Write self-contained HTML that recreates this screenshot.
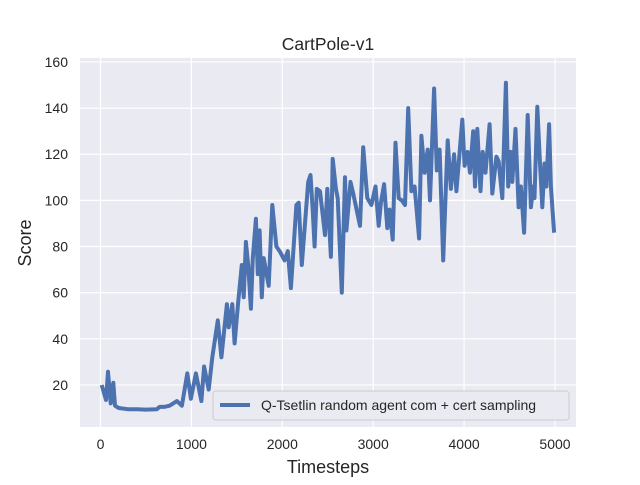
<!DOCTYPE html>
<html><head><meta charset="utf-8"><style>
body{margin:0;background:#fff;font-family:"Liberation Sans",Arial,sans-serif}
svg text{font-family:"Liberation Sans",Arial,sans-serif;fill:#262626}
</style></head><body>
<svg id="chart" width="640" height="480" xmlns="http://www.w3.org/2000/svg">
<rect x="0" y="0" width="640" height="480" fill="#fff"/>
<rect x="80" y="58" width="496" height="369" fill="#eaeaf2"/>
<g id="grid"></g>
<g id="ticks"></g>
<g id="series"></g>
<text x="328" y="50" font-size="17.5" text-anchor="middle">CartPole-v1</text>
<text x="328" y="473" font-size="18" text-anchor="middle">Timesteps</text>
<text x="31" y="243" font-size="18" text-anchor="middle" transform="rotate(-90 31 243)">Score</text>
<g>
<rect x="213" y="391" width="356" height="29" rx="3" fill="#eaeaf2" stroke="#cccccc" stroke-width="1"/>
<line x1="220" y1="405" x2="250" y2="405" stroke="#4c72b0" stroke-width="4"/>
<text x="261" y="410" font-size="14">Q-Tsetlin random agent com + cert sampling</text>
</g>
</svg>
<script>
const timesteps=[13,60,82,112,141,160,200,300,400,500,620,650,700,760,840,895,955,995,1050,1110,1140,1190,1230,1290,1330,1390,1410,1450,1475,1515,1555,1575,1600,1625,1655,1675,1710,1730,1750,1775,1795,1850,1890,1935,1970,2025,2060,2095,2155,2180,2215,2285,2310,2335,2355,2380,2415,2470,2495,2535,2555,2590,2610,2655,2690,2705,2750,2780,2855,2890,2935,2980,3025,3060,3085,3120,3155,3180,3215,3245,3280,3315,3350,3385,3420,3455,3505,3530,3565,3600,3625,3670,3700,3730,3770,3800,3820,3855,3890,3915,3980,4005,4040,4065,4100,4120,4145,4180,4205,4235,4280,4310,4355,4380,4420,4460,4485,4510,4530,4565,4600,4625,4660,4700,4735,4760,4775,4805,4835,4860,4885,4905,4935,4955,4990];
const scores=[20,13.5,25.7,12,21,11,10,9.5,9.5,9.3,9.5,10.5,10.5,11,13,11,25,14,25,13,28,18,32,48,32,55,45,55,38,56,72,58,82,72,53,75,92,68,87,58,75,63,98,80,78,74,78,62,98,99,72,108,111,95,80,105,104,85,105,75.5,118,105,101,60,110,87,108,103,89,123,101,98,106,89,99,107,88,96,83,125,101,100,98,140,104,106,83.5,128,112,122,100,148.5,113,122,74,106,126,105,120,104,135,115,121,112,130,106,131,104,121,112,133,103,119,117,101,151,106,121,108,131,97,106,86,137,97,106,101,140.6,116,97,116,106,133,106,86];
const xTicks=[0,1000,2000,3000,4000,5000];
const yTicks=[20,40,60,80,100,120,140,160];
const NS="http://www.w3.org/2000/svg";
function xs(t){return 100.5+t*(454.5/5000);}
function ys(v){return 431.1-v*(323/140);}
const grid=document.getElementById('grid'),ticks=document.getElementById('ticks'),series=document.getElementById('series');
xTicks.forEach(t=>{
 const l=document.createElementNS(NS,'line');
 
 
 l.setAttribute('x1',xs(t));l.setAttribute('x2',xs(t));l.setAttribute('y1',58);l.setAttribute('y2',427);
 l.setAttribute('stroke','#fff');l.setAttribute('stroke-width','1.2');grid.appendChild(l);
 const tx=document.createElementNS(NS,'text');
 
 
 tx.setAttribute('x',xs(t));tx.setAttribute('y',449);tx.setAttribute('font-size','14');tx.setAttribute('text-anchor','middle');
 tx.textContent=t;ticks.appendChild(tx);
});
yTicks.forEach(v=>{
 const l=document.createElementNS(NS,'line');
 
 
 l.setAttribute('x1',80);l.setAttribute('x2',576);l.setAttribute('y1',ys(v));l.setAttribute('y2',ys(v));
 l.setAttribute('stroke','#fff');l.setAttribute('stroke-width','1.2');grid.appendChild(l);
 const tx=document.createElementNS(NS,'text');
 
 
 tx.setAttribute('x',68);tx.setAttribute('y',ys(v)+5);tx.setAttribute('font-size','14');tx.setAttribute('text-anchor','end');
 tx.textContent=v;ticks.appendChild(tx);
});
const p=document.createElementNS(NS,'path');


p.setAttribute('d',timesteps.map((t,i)=>(i?'L':'M')+xs(t).toFixed(1)+','+ys(scores[i]).toFixed(1)).join(' '));
p.setAttribute('fill','none');p.setAttribute('stroke','#4c72b0');p.setAttribute('stroke-width','4');p.setAttribute('stroke-linejoin','round');
series.appendChild(p);
</script>
</body></html>
